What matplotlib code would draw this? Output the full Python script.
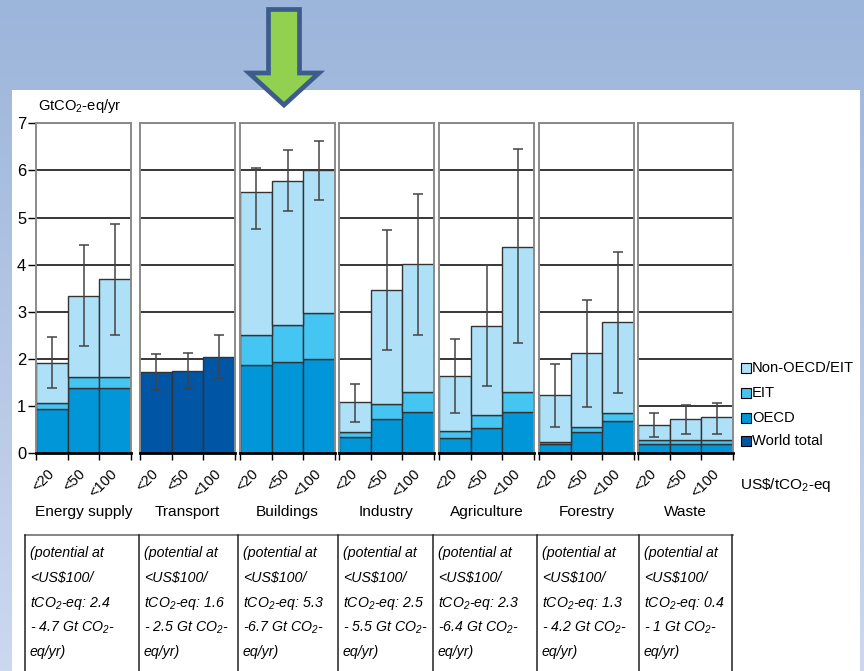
import numpy as np
import matplotlib
matplotlib.use("Agg")
import matplotlib.pyplot as plt
from matplotlib import font_manager
from matplotlib.patches import Rectangle, Polygon
from matplotlib.lines import Line2D

# ---------------------------------------------------------------- data
sectors = ["Energy supply", "Transport", "Buildings", "Industry",
           "Agriculture", "Forestry", "Waste"]
price_labels = ["<20", "<50", "<100"]

oecd = {
    "Energy supply": [0.93, 1.38, 1.38],
    "Buildings":     [1.87, 1.94, 2.01],
    "Industry":      [0.35, 0.72, 0.88],
    "Agriculture":   [0.32, 0.53, 0.87],
    "Forestry":      [0.20, 0.46, 0.69],
    "Waste":         [0.19, 0.19, 0.19],
}
eit = {
    "Energy supply": [0.14, 0.23, 0.23],
    "Buildings":     [0.63, 0.78, 0.96],
    "Industry":      [0.10, 0.33, 0.41],
    "Agriculture":   [0.15, 0.28, 0.44],
    "Forestry":      [0.03, 0.09, 0.16],
    "Waste":         [0.09, 0.10, 0.10],
}
non_oecd_eit = {
    "Energy supply": [0.85, 1.73, 2.08],
    "Buildings":     [3.04, 3.06, 3.03],
    "Industry":      [0.63, 2.41, 2.73],
    "Agriculture":   [1.17, 1.90, 3.07],
    "Forestry":      [1.01, 1.57, 1.93],
    "Waste":         [0.33, 0.43, 0.47],
}
world_total = {
    "Transport": [1.72, 1.75, 2.05],
}
range_low = {
    "Energy supply": [1.39, 2.28, 2.50],
    "Transport":     [1.34, 1.36, 1.59],
    "Buildings":     [4.76, 5.14, 5.38],
    "Industry":      [0.67, 2.19, 2.52],
    "Agriculture":   [0.86, 1.43, 2.33],
    "Forestry":      [0.56, 0.99, 1.28],
    "Waste":         [0.35, 0.41, 0.42],
}
range_high = {
    "Energy supply": [2.46, 4.42, 4.87],
    "Transport":     [2.10, 2.12, 2.50],
    "Buildings":     [6.05, 6.43, 6.63],
    "Industry":      [1.48, 4.74, 5.51],
    "Agriculture":   [2.42, 3.99, 6.45],
    "Forestry":      [1.90, 3.26, 4.26],
    "Waste":         [0.85, 1.02, 1.07],
}
potential_low = ["2.4", "1.6", "5.3", "2.5", "2.3", "1.3", "0.4"]
potential_high = ["4.7", "2.5", "6.7", "5.5", "6.4", "4.2", "1"]
potential_dash = ["- ", "- ", "-", "- ", "-", "- ", "- "]

legend_labels = ["Non-OECD/EIT", "EIT", "OECD", "World total"]

# ---------------------------------------------------------------- style
C_NON = "#aee0f8"
C_EIT = "#45c5f2"
C_OECD = "#0096d8"
C_WORLD = "#0055a5"
EDGE = "#333333"
legend_colors = [C_NON, C_EIT, C_OECD, C_WORLD]

names = {f.name for f in font_manager.fontManager.ttflist}
if "Liberation Sans Narrow" in names:
    FAMILY = "Liberation Sans Narrow"
    SCALE = 1.0
else:
    FAMILY = "Liberation Sans"
    SCALE = 0.85

plt.rcParams["font.family"] = [FAMILY, "DejaVu Sans"]
plt.rcParams["mathtext.fontset"] = "custom"
plt.rcParams["mathtext.rm"] = FAMILY
plt.rcParams["mathtext.it"] = FAMILY + ":italic"
plt.rcParams["mathtext.default"] = "regular"

W, H = 864, 671
fig = plt.figure(figsize=(W / 100, H / 100), dpi=100)


def fx(px):
    return px / W


def fy(py):
    return 1 - py / H


# slide background gradient
bg = fig.add_axes([0, 0, 1, 1], zorder=-10)
grad = np.linspace(0, 1, 256)[:, None]
top = np.array([0x9c, 0xb5, 0xda]) / 255
bot = np.array([0xcc, 0xd8, 0xf0]) / 255
img = top[None, None, :] * (1 - grad[..., None]) + bot[None, None, :] * grad[..., None]
img = np.repeat(img, 2, axis=1)
bg.imshow(img, aspect="auto", extent=[0, 1, 0, 1])
bg.set_xlim(0, 1)
bg.set_ylim(0, 1)
bg.axis("off")

# white content card
fig.add_artist(Rectangle((fx(12), 0), fx(860) - fx(12), fy(90), transform=fig.transFigure,
                         facecolor="white", edgecolor="none", zorder=-5))

# ---------------------------------------------------------------- panels
panel_left = [36, 140, 240, 339, 439, 539, 638]
panel_width = 95
ax_bottom = fy(453.3)
ax_height = 330 / H
xpos = np.array([0.5, 1.5, 2.5])

for i, sec in enumerate(sectors):
    ax = fig.add_axes([fx(panel_left[i]), ax_bottom, panel_width / W, ax_height])
    ax.set_xlim(0, 3)
    ax.set_ylim(0, 7)
    ax.set_axisbelow(True)
    ax.yaxis.grid(True, color="black", linewidth=1.1)

    if sec in world_total:
        ax.bar(xpos, world_total[sec], width=1.0, color=C_WORLD,
               edgecolor=EDGE, linewidth=1.0)
    else:
        o = np.array(oecd[sec])
        e = np.array(eit[sec])
        n = np.array(non_oecd_eit[sec])
        ax.bar(xpos, o, width=1.0, color=C_OECD, edgecolor=EDGE, linewidth=1.0)
        ax.bar(xpos, e, bottom=o, width=1.0, color=C_EIT, edgecolor=EDGE, linewidth=1.0)
        ax.bar(xpos, n, bottom=o + e, width=1.0, color=C_NON, edgecolor=EDGE, linewidth=1.0)

    lo = np.array(range_low[sec])
    hi = np.array(range_high[sec])
    mid = (lo + hi) / 2
    ax.errorbar(xpos, mid, yerr=[mid - lo, hi - mid], fmt="none",
                ecolor="#444444", elinewidth=1.1, capsize=3.8, capthick=1.1)

    for s in ["top", "left", "right"]:
        ax.spines[s].set_color("#8a8a8a")
        ax.spines[s].set_linewidth(1.4)
    ax.spines["bottom"].set_color("black")
    ax.spines["bottom"].set_linewidth(2.0)

    ax.set_xticks([0, 1, 2, 3])
    ax.set_xticklabels([])
    ax.set_xticks(xpos, minor=True)
    ax.set_xticklabels(price_labels, minor=True, fontsize=10.5)
    ax.tick_params(axis="x", which="major", length=5, width=1, color="black", direction="out")
    ax.tick_params(axis="x", which="minor", length=0, pad=13)
    for lab in ax.get_xticklabels(minor=True):
        lab.set_rotation(45)
        lab.set_ha("right")
        lab.set_va("center")
        lab.set_rotation_mode("anchor")

    ax.set_yticks(range(8))
    if i == 0:
        ax.set_yticklabels([str(v) for v in range(8)], fontsize=14 * SCALE)
        ax.tick_params(axis="y", length=6, width=1, pad=1, color="black")
    else:
        ax.tick_params(axis="y", length=0, labelleft=False)

    ax.text(0.5, -(512 - 453.3) / 330, sec, transform=ax.transAxes,
            ha="center", va="center", fontsize=13 * SCALE)

# axis unit labels
fig.text(fx(38), fy(106), r"GtCO$_2$-eq/yr", ha="left", va="center", fontsize=12.5 * SCALE)
fig.text(fx(740), fy(485), r"US\$/tCO$_2$-eq", ha="left", va="center", fontsize=13 * SCALE)

# legend
legend_y = [368, 393, 418, 441]
for lab, col, ly in zip(legend_labels, legend_colors, legend_y):
    fig.add_artist(Rectangle((fx(741), fy(ly + 5)), 10 / W, 10 / H, transform=fig.transFigure,
                             facecolor=col, edgecolor="black", linewidth=0.8))
    fig.text(fx(752), fy(ly), lab, ha="left", va="center", fontsize=12.5 * SCALE)

# potential table under the sectors
col_edges = [25, 139, 238, 338, 433, 537, 639, 732]
fig.add_artist(Line2D([fx(25), fx(733)], [fy(534.5), fy(534.5)], transform=fig.transFigure,
                      color="#707070", linewidth=1.2))
for xe in col_edges:
    fig.add_artist(Line2D([fx(xe), fx(xe)], [fy(534.5), 0], transform=fig.transFigure,
                          color="#222222", linewidth=1.1))
line_y = [553, 578, 603, 628, 652]
for i in range(len(sectors)):
    lines = ["(potential at",
             r"<US\$100/",
             r"tCO$_2$-eq: " + potential_low[i],
             potential_dash[i] + potential_high[i] + r" Gt CO$_2$-",
             "eq/yr)"]
    for txt, ly in zip(lines, line_y):
        fig.text(fx(col_edges[i] + 5), fy(ly), txt, ha="left", va="center",
                 fontsize=12 * SCALE, style="italic")

# green pointer arrow above Buildings
arrow_px = [(268.5, 9.5), (299.5, 9.5), (299.5, 73), (319, 73), (284, 105),
            (249, 73), (268.5, 73)]
fig.add_artist(Polygon([(fx(a), fy(b)) for a, b in arrow_px], closed=True,
                       transform=fig.transFigure, facecolor="#92d050",
                       edgecolor="#3d5c8c", linewidth=3.4, joinstyle="miter", zorder=10))

fig.savefig("out.png", dpi=100)
